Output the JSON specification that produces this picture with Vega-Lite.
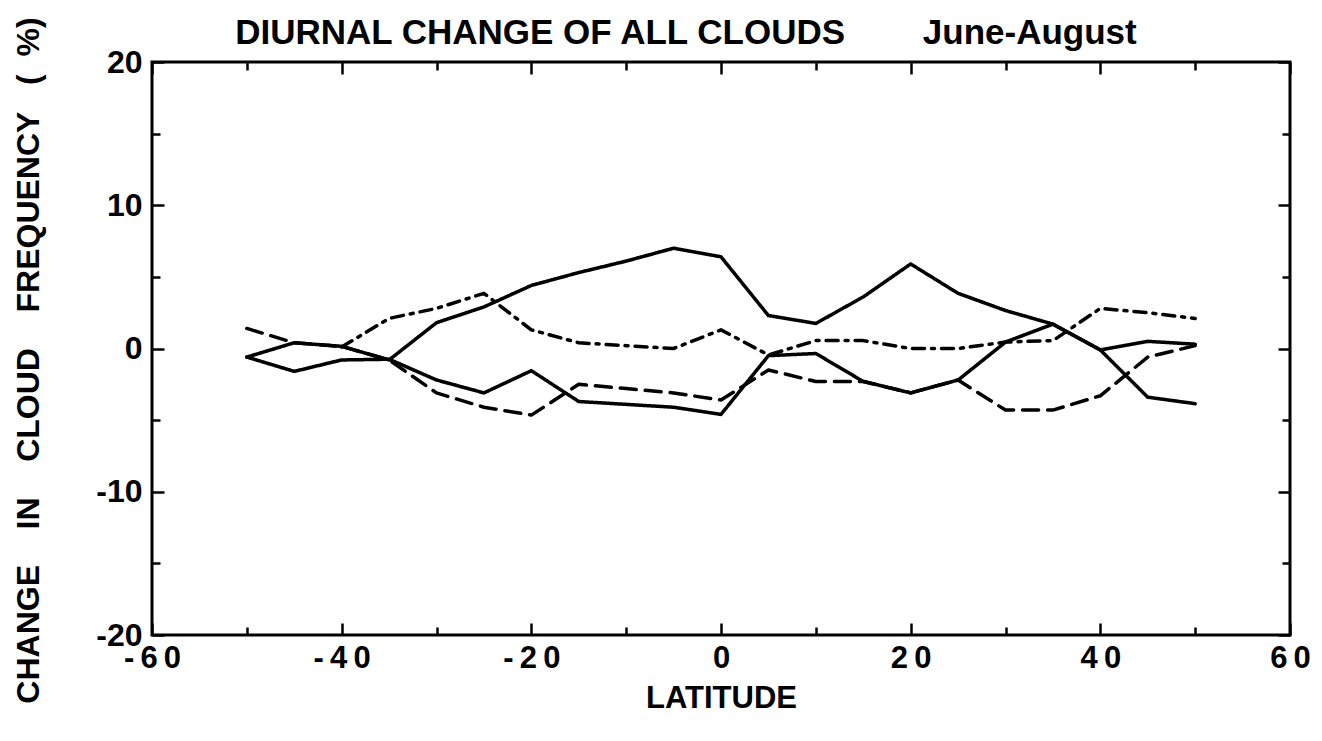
{
  "$schema": "https://vega.github.io/schema/vega-lite/v6.json",
  "autosize": "none",
  "width": 1138,
  "height": 573,
  "padding": {"left": 152, "top": 62, "right": 32, "bottom": 106},
  "background": "white",
  "config": {
    "view": {"stroke": "black", "strokeWidth": 3},
    "font": "Liberation Sans",
    "axis": {"domain": false, "grid": false, "tickColor": "black", "tickWidth": 2.5, "labelColor": "black", "titleColor": "black", "labelFont": "Liberation Sans", "titleFont": "Liberation Sans", "labelFontWeight": "bold", "titleFontWeight": "bold"}
  },
  "data": {
    "values": [
      {"lat": -50, "val": -0.6, "series": "solid1"},
      {"lat": -45, "val": 0.4, "series": "solid1"},
      {"lat": -40, "val": 0.15, "series": "solid1"},
      {"lat": -35, "val": -0.8, "series": "solid1"},
      {"lat": -30, "val": 1.8, "series": "solid1"},
      {"lat": -25, "val": 2.9, "series": "solid1"},
      {"lat": -20, "val": 4.4, "series": "solid1"},
      {"lat": -15, "val": 5.3, "series": "solid1"},
      {"lat": -10, "val": 6.1, "series": "solid1"},
      {"lat": -5, "val": 7.0, "series": "solid1"},
      {"lat": 0, "val": 6.4, "series": "solid1"},
      {"lat": 5, "val": 2.3, "series": "solid1"},
      {"lat": 10, "val": 1.75, "series": "solid1"},
      {"lat": 15, "val": 3.6, "series": "solid1"},
      {"lat": 20, "val": 5.9, "series": "solid1"},
      {"lat": 25, "val": 3.85, "series": "solid1"},
      {"lat": 30, "val": 2.65, "series": "solid1"},
      {"lat": 35, "val": 1.7, "series": "solid1"},
      {"lat": 40, "val": -0.1, "series": "solid1"},
      {"lat": 45, "val": -3.4, "series": "solid1"},
      {"lat": 50, "val": -3.85, "series": "solid1"},
      {"lat": -50, "val": -0.6, "series": "solid2"},
      {"lat": -45, "val": -1.6, "series": "solid2"},
      {"lat": -40, "val": -0.8, "series": "solid2"},
      {"lat": -35, "val": -0.75, "series": "solid2"},
      {"lat": -30, "val": -2.2, "series": "solid2"},
      {"lat": -25, "val": -3.1, "series": "solid2"},
      {"lat": -20, "val": -1.55, "series": "solid2"},
      {"lat": -15, "val": -3.7, "series": "solid2"},
      {"lat": -10, "val": -3.9, "series": "solid2"},
      {"lat": -5, "val": -4.1, "series": "solid2"},
      {"lat": 0, "val": -4.6, "series": "solid2"},
      {"lat": 5, "val": -0.5, "series": "solid2"},
      {"lat": 10, "val": -0.35, "series": "solid2"},
      {"lat": 15, "val": -2.3, "series": "solid2"},
      {"lat": 20, "val": -3.1, "series": "solid2"},
      {"lat": 25, "val": -2.2, "series": "solid2"},
      {"lat": 30, "val": 0.45, "series": "solid2"},
      {"lat": 35, "val": 1.7, "series": "solid2"},
      {"lat": 40, "val": -0.1, "series": "solid2"},
      {"lat": 45, "val": 0.5, "series": "solid2"},
      {"lat": 50, "val": 0.3, "series": "solid2"},
      {"lat": -50, "val": 1.4, "series": "dashed"},
      {"lat": -45, "val": 0.4, "series": "dashed"},
      {"lat": -40, "val": 0.15, "series": "dashed"},
      {"lat": -35, "val": -0.8, "series": "dashed"},
      {"lat": -30, "val": -3.1, "series": "dashed"},
      {"lat": -25, "val": -4.1, "series": "dashed"},
      {"lat": -20, "val": -4.65, "series": "dashed"},
      {"lat": -15, "val": -2.5, "series": "dashed"},
      {"lat": -10, "val": -2.8, "series": "dashed"},
      {"lat": -5, "val": -3.1, "series": "dashed"},
      {"lat": 0, "val": -3.6, "series": "dashed"},
      {"lat": 5, "val": -1.5, "series": "dashed"},
      {"lat": 10, "val": -2.3, "series": "dashed"},
      {"lat": 15, "val": -2.3, "series": "dashed"},
      {"lat": 20, "val": -3.1, "series": "dashed"},
      {"lat": 25, "val": -2.2, "series": "dashed"},
      {"lat": 30, "val": -4.3, "series": "dashed"},
      {"lat": 35, "val": -4.3, "series": "dashed"},
      {"lat": 40, "val": -3.3, "series": "dashed"},
      {"lat": 45, "val": -0.6, "series": "dashed"},
      {"lat": 50, "val": 0.2, "series": "dashed"},
      {"lat": -40, "val": 0.1, "series": "dashdot"},
      {"lat": -35, "val": 2.1, "series": "dashdot"},
      {"lat": -30, "val": 2.8, "series": "dashdot"},
      {"lat": -25, "val": 3.85, "series": "dashdot"},
      {"lat": -20, "val": 1.3, "series": "dashdot"},
      {"lat": -15, "val": 0.4, "series": "dashdot"},
      {"lat": -10, "val": 0.2, "series": "dashdot"},
      {"lat": -5, "val": 0.0, "series": "dashdot"},
      {"lat": 0, "val": 1.3, "series": "dashdot"},
      {"lat": 5, "val": -0.45, "series": "dashdot"},
      {"lat": 10, "val": 0.55, "series": "dashdot"},
      {"lat": 15, "val": 0.55, "series": "dashdot"},
      {"lat": 20, "val": 0.0, "series": "dashdot"},
      {"lat": 25, "val": 0.0, "series": "dashdot"},
      {"lat": 30, "val": 0.45, "series": "dashdot"},
      {"lat": 35, "val": 0.55, "series": "dashdot"},
      {"lat": 40, "val": 2.8, "series": "dashdot"},
      {"lat": 45, "val": 2.5, "series": "dashdot"},
      {"lat": 50, "val": 2.1, "series": "dashdot"}
    ]
  },
  "resolve": {"axis": {"x": "independent", "y": "independent"}},
  "layer": [
    {
      "mark": {"type": "line", "color": "black", "strokeWidth": 3.5, "strokeCap": "round", "strokeJoin": "round"},
      "encoding": {
        "x": {
          "field": "lat", "type": "quantitative",
          "scale": {"domain": [-60, 60], "nice": false, "zero": false},
          "axis": {
            "orient": "bottom", "values": [-60, -40, -20, 0, 20, 40, 60],
            "tickSize": -12, "labelPadding": 20, "labelFontSize": 31,
            "labelExpr": "join(split(toString(datum.value), ''), '\u2009')",
            "labelFlush": false, "labelOverlap": false,
            "title": "LATITUDE", "titleFontSize": 31, "titlePadding": 10
          }
        },
        "y": {
          "field": "val", "type": "quantitative",
          "scale": {"domain": [-20, 20], "nice": false, "zero": false},
          "axis": {
            "orient": "left", "values": [-20, -10, 0, 10, 20],
            "tickSize": -12, "labelPadding": 22, "labelFontSize": 32,
            "labelExpr": "toString(datum.value)",
            "labelFlush": false, "labelOverlap": false,
            "title": "CHANGE\u00a0\u00a0\u00a0\u00a0IN\u00a0\u00a0\u00a0\u00a0CLOUD\u00a0\u00a0\u00a0\u00a0FREQUENCY\u00a0\u00a0\u00a0(\u00a0\u00a0%)",
            "titleFontSize": 32, "titleX": -107, "titleY": 298, "titleAngle": -90, "titleBaseline": "bottom", "titleAlign": "center"
          }
        },
        "detail": {"field": "series"},
        "strokeDash": {
          "field": "series", "type": "nominal",
          "scale": {"domain": ["solid1", "solid2", "dashed", "dashdot"], "range": [[1, 0], [1, 0], [16, 9], [12, 7, 3, 7]]},
          "legend": null
        }
      }
    },
    {
      "mark": {"type": "point", "opacity": 0},
      "encoding": {
        "x": {"field": "lat", "type": "quantitative", "axis": {"orient": "bottom", "values": [-50, -30, -10, 10, 30, 50], "tickSize": -8, "labels": false, "title": null}},
        "y": {"field": "val", "type": "quantitative", "axis": {"orient": "left", "values": [-15, -5, 5, 15], "tickSize": -8, "labels": false, "title": null}}
      }
    },
    {
      "mark": {"type": "point", "opacity": 0},
      "encoding": {
        "x": {"field": "lat", "type": "quantitative", "axis": {"orient": "top", "values": [-60, -40, -20, 0, 20, 40, 60], "tickSize": -12, "labels": false, "title": null}},
        "y": {"field": "val", "type": "quantitative", "axis": {"orient": "right", "values": [-20, -10, 0, 10, 20], "tickSize": -12, "labels": false, "title": null}}
      }
    },
    {
      "mark": {"type": "point", "opacity": 0},
      "encoding": {
        "x": {"field": "lat", "type": "quantitative", "axis": {"orient": "top", "values": [-50, -30, -10, 10, 30, 50], "tickSize": -8, "labels": false, "title": null}},
        "y": {"field": "val", "type": "quantitative", "axis": {"orient": "right", "values": [-15, -5, 5, 15], "tickSize": -8, "labels": false, "title": null}}
      }
    },
    {
      "data": {"values": [{"lat": -3.7, "val": 21.26, "label": "DIURNAL CHANGE OF ALL CLOUDS\u00a0\u00a0\u00a0\u00a0\u00a0\u00a0\u00a0\u00a0June-August"}]},
      "mark": {"type": "text", "font": "Liberation Sans", "fontWeight": "bold", "fontSize": 35, "color": "black", "align": "center", "baseline": "alphabetic", "clip": false},
      "encoding": {
        "x": {"field": "lat", "type": "quantitative", "axis": null},
        "y": {"field": "val", "type": "quantitative", "axis": null},
        "text": {"field": "label"}
      }
    }
  ]
}
